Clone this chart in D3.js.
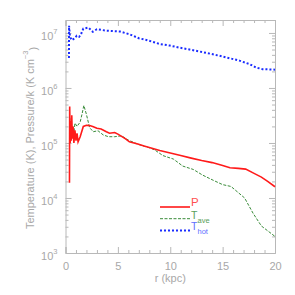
<!DOCTYPE html>
<html>
<head>
<meta charset="utf-8">
<script src="https://cdn.jsdelivr.net/npm/d3@7"></script>
<style>
  html, body { margin: 0; padding: 0; background: #fff; }
  svg text { font-family: "Liberation Sans", "DejaVu Sans", sans-serif; fill: #a8a8a8; }
  .axis path, .axis line { stroke: #b8b8b8; }
</style>
</head>
<body>
<div id="chart"></div>
<script>
// Data (r in kpc)
var pR = [0.38, 0.40, 0.45, 0.50, 0.55, 0.60, 0.65, 0.72, 0.80, 0.90, 1.0, 1.1, 1.2, 1.4, 1.7, 2.0, 2.3, 2.6, 3.0, 3.4, 3.9, 4.2, 4.7, 5.0, 5.7, 6.1, 6.9, 7.5, 8.0, 9.0, 10.0, 11.0, 12.0, 13.0, 14.0, 15.0, 15.7, 16.5, 17.2, 18.0, 18.7, 19.3, 20.0];
var pVal = [1.9e4, 4.6e5, 1.0e5, 2.5e5, 1.1e5, 3.2e5, 1.2e5, 2.0e5, 1.0e5, 1.7e5, 1.1e5, 1.5e5, 1.05e5, 1.3e5, 2.0e5, 2.1e5, 2.07e5, 2.0e5, 1.85e5, 1.8e5, 1.6e5, 1.5e5, 1.55e5, 1.45e5, 1.2e5, 1.05e5, 9.6e4, 8.8e4, 8.3e4, 7.3e4, 6.6e4, 5.9e4, 5.3e4, 4.8e4, 4.4e4, 3.9e4, 3.55e4, 3.45e4, 3.35e4, 2.8e4, 2.4e4, 2.0e4, 1.6e4];

var aveR = [0.4, 0.45, 0.5, 0.55, 0.6, 0.7, 0.8, 0.9, 1.1, 1.4, 1.6, 1.75, 2.0, 2.3, 2.65, 3.1, 3.6, 4.1, 4.7, 5.35, 6.0, 6.9, 8.0, 8.5, 9.3, 10.3, 11.2, 12.2, 13.1, 14.1, 15.0, 15.8, 16.5, 17.1, 17.9, 18.7, 20.0];
var aveVal = [1.2e5, 2.5e5, 1.3e5, 2.8e5, 1.4e5, 2.0e5, 1.5e5, 2.3e5, 2.0e5, 2.4e5, 3.5e5, 4.8e5, 3.3e5, 1.9e5, 1.6e5, 1.67e5, 1.4e5, 1.3e5, 1.3e5, 1.35e5, 1.13e5, 9.5e4, 8.2e4, 7.5e4, 5.9e4, 5.1e4, 3.8e4, 3.3e4, 2.6e4, 2.1e4, 1.75e4, 1.62e4, 1.25e4, 1.0e4, 5.3e3, 3.1e3, 2.0e3];

var hotR = [0.33, 0.34, 0.43, 0.6, 0.9, 1.07, 1.3, 1.45, 1.7, 2.2, 2.6, 3.0, 3.9, 5.2, 6.1, 7.0, 7.8, 9.0, 9.95, 10.9, 11.85, 12.8, 13.8, 14.7, 15.7, 16.6, 17.6, 18.2, 18.8, 20.0];
var hotVal = [3.5e6, 1.35e7, 8.5e6, 7.4e6, 8.0e6, 8.9e6, 8.5e6, 9.2e6, 1.2e7, 1.25e7, 1.05e7, 1.17e7, 1.1e7, 1.06e7, 9.5e6, 8.0e6, 7.4e6, 6.3e6, 5.9e6, 5.4e6, 5.0e6, 4.6e6, 4.2e6, 3.85e6, 3.46e6, 3.14e6, 2.7e6, 2.35e6, 2.2e6, 2.15e6];

var xMajor = [0, 5, 10, 15, 20];
var yMajor = [1e3, 1e4, 1e5, 1e6, 1e7];

var series = [
  { name: "P", sub: "", r: pR, v: pVal, color: "#ff1a1a", labelColor: "#ff5050", width: 1.6, dash: null },
  { name: "T", sub: "ave", r: aveR, v: aveVal, color: "#3a8c3a", labelColor: "#5aa05a", width: 1, dash: "3,1.5" },
  { name: "T", sub: "hot", r: hotR, v: hotVal, color: "#1a2cff", labelColor: "#6070ff", width: 2, dash: "2,2" }
];

var margins = { top: 20, right: 20, bottom: 42, left: 65.5 };
var width = 295, height = 295;
var chartWidth = width - margins.left - margins.right;
var chartHeight = height - margins.top - margins.bottom;

var svg = d3.select("#chart").append("svg")
  .attr("width", width)
  .attr("height", height);

var chart = svg.append("g")
  .attr("transform", "translate(" + margins.left + "," + margins.top + ")");

var xScale = d3.scaleLinear().domain([0, 20]).range([0, chartWidth]);
var yScale = d3.scaleLog().domain([1e3, 1.72e7]).range([chartHeight, 0]);

var xMinor = d3.range(0, 21, 1).filter(d => xMajor.indexOf(d) == -1);
var yMinor = [];
[1e3, 1e4, 1e5, 1e6, 1e7].forEach(function(dec) {
  for (var k = 2; k <= 9; k++) {
    if (dec * k <= 1.72e7) yMinor.push(dec * k);
  }
});

// Bottom axis
chart.append("g").attr("class", "axis")
  .attr("transform", "translate(0," + chartHeight + ")")
  .call(d3.axisBottom(xScale).tickValues(xMajor).tickSize(-6).tickPadding(9).tickFormat(d3.format("d")))
  .call(g => g.selectAll("text").attr("font-size", 11));
chart.append("g").attr("class", "axis")
  .attr("transform", "translate(0," + chartHeight + ")")
  .call(d3.axisBottom(xScale).tickValues(xMinor).tickSize(-3).tickFormat(""))
  .call(g => g.select(".domain").remove());

// Top axis
chart.append("g").attr("class", "axis")
  .call(d3.axisTop(xScale).tickValues(xMajor).tickSize(-6).tickFormat(""));
chart.append("g").attr("class", "axis")
  .call(d3.axisTop(xScale).tickValues(xMinor).tickSize(-3).tickFormat(""))
  .call(g => g.select(".domain").remove());

// Left axis
var leftAxis = chart.append("g").attr("class", "axis")
  .call(d3.axisLeft(yScale).tickValues(yMajor).tickSize(-6).tickPadding(8).tickFormat(""));
leftAxis.selectAll(".tick text").each(function(d) {
  var t = d3.select(this).attr("font-size", 11).attr("dy", "0.55em");
  t.append("tspan").text("10");
  t.append("tspan").attr("font-size", 7.5).attr("dy", "-0.8em").text(Math.round(Math.log10(d)));
});
chart.append("g").attr("class", "axis")
  .call(d3.axisLeft(yScale).tickValues(yMinor).tickSize(-3).tickFormat(""))
  .call(g => g.select(".domain").remove());

// Right axis
chart.append("g").attr("class", "axis")
  .attr("transform", "translate(" + chartWidth + ",0)")
  .call(d3.axisRight(yScale).tickValues(yMajor).tickSize(-6).tickFormat(""));
chart.append("g").attr("class", "axis")
  .attr("transform", "translate(" + chartWidth + ",0)")
  .call(d3.axisRight(yScale).tickValues(yMinor).tickSize(-3).tickFormat(""))
  .call(g => g.select(".domain").remove());

// Axis titles
svg.append("text")
  .attr("x", margins.left + chartWidth / 2)
  .attr("y", 282)
  .attr("text-anchor", "middle")
  .attr("font-size", 11)
  .text("r (kpc)");

var yTitle = svg.append("text")
  .attr("transform", "translate(34," + (margins.top + 118) + ") rotate(-90)")
  .attr("text-anchor", "middle")
  .attr("font-size", 11);
yTitle.append("tspan").text("Temperature (K), Pressure/k (K cm");
yTitle.append("tspan").attr("font-size", 7.5).attr("dy", "-0.8em").text("\u22123");
yTitle.append("tspan").attr("dy", "0.8em").text(")");

// Lines
var line = d3.line()
  .x(d => xScale(d[0]))
  .y(d => yScale(d[1]));

series.slice().reverse().forEach(function(s) {
  chart.append("path")
    .datum(s.r.map((r, i) => [r, s.v[i]]))
    .attr("fill", "none")
    .attr("stroke", s.color)
    .attr("stroke-width", s.width)
    .attr("stroke-dasharray", s.dash)
    .attr("d", line);
});

// Legend
var legend = svg.append("g").attr("transform", "translate(160,207)");
series.forEach(function(s, i) {
  var g = legend.append("g").attr("transform", "translate(0," + i * 11.7 + ")");
  g.append("line")
    .attr("x1", 0).attr("x2", 30)
    .attr("stroke", s.color)
    .attr("stroke-width", s.width)
    .attr("stroke-dasharray", s.dash);
  g.append("text")
    .attr("x", 31).attr("y", s.sub ? 0 : -1)
    .attr("font-size", s.sub ? 10.5 : 11.5)
    .style("fill", s.labelColor)
    .text(s.name);
  if (s.sub) {
    g.append("text")
      .attr("x", 37.5).attr("y", 4)
      .attr("font-size", 7.5)
      .style("fill", s.labelColor)
      .text(s.sub);
  }
});
</script>
</body>
</html>
